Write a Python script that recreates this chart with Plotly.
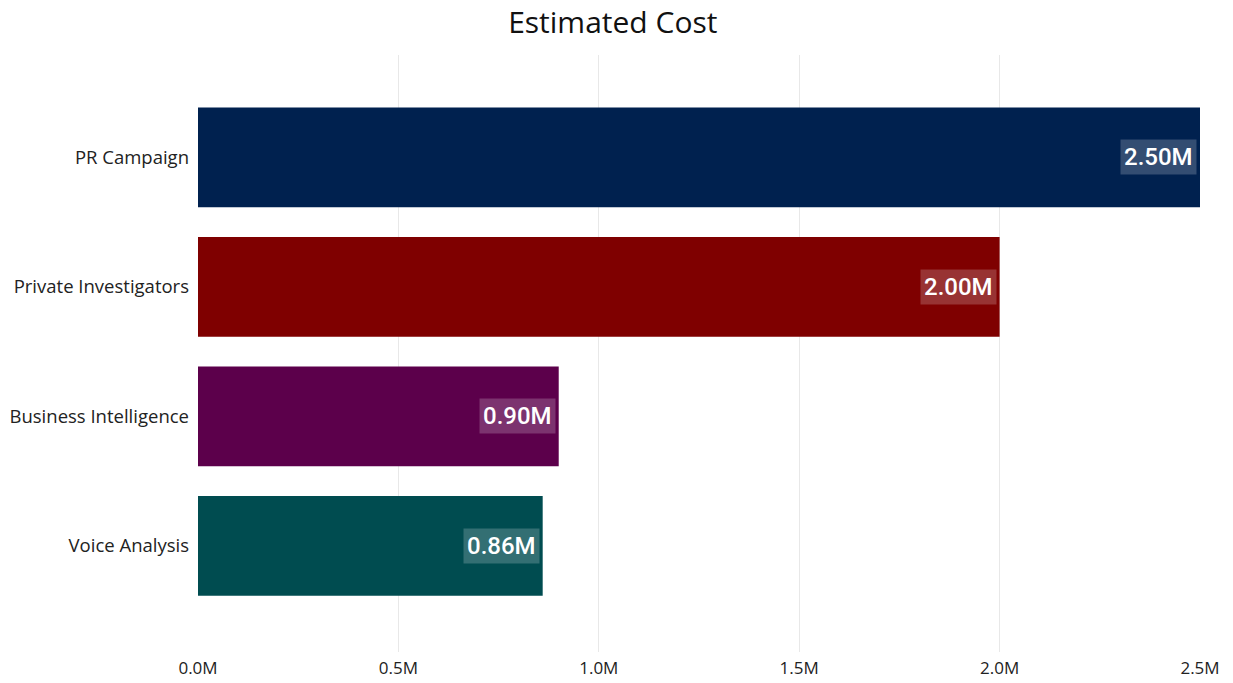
import plotly.graph_objects as go

categories = ["PR Campaign", "Private Investigators", "Business Intelligence", "Voice Analysis"]
values = [2500000, 2000000, 900000, 860000]
labels = ["2.50M", "2.00M", "0.90M", "0.86M"]
colors = ["#00214F", "#7F0000", "#5C004B", "#004C50"]
tick_vals = [0, 500000, 1000000, 1500000, 2000000, 2500000]
tick_text = ["0.0M", "0.5M", "1.0M", "1.5M", "2.0M", "2.5M"]

fig = go.Figure()
fig.add_trace(go.Bar(
    y=categories, x=values, orientation="h",
    marker=dict(color=colors, line=dict(width=0)),
    hoverinfo="x+y",
))

for c, v, t in zip(categories, values, labels):
    fig.add_annotation(
        x=v, y=c, text=t, showarrow=False, xanchor="right", xshift=-3,
        font=dict(family="Roboto", size=24, color="white", weight=500),
        bgcolor="rgba(255,255,255,0.2)", borderpad=3,
    )

fig.update_layout(
    width=1233, height=683,
    margin=dict(l=198, r=33, t=55, b=31),
    paper_bgcolor="white", plot_bgcolor="white",
    title=dict(text="Estimated Cost", x=0.497, xanchor="center", y=0.967, yanchor="middle",
               font=dict(family="Open Sans", size=30, color="#111")),
    bargap=0.23,
    showlegend=False,
    font=dict(family="Open Sans", color="#222"),
)
fig.update_xaxes(
    range=[0, 2500000], tickvals=tick_vals, ticktext=tick_text,
    showgrid=True, gridcolor="#E8E8E8", gridwidth=1, zeroline=False,
    showline=False, ticks="", ticklabelstandoff=4, automargin=False,
    tickfont=dict(size=17, color="#222"),
)
fig.update_yaxes(
    type="category", categoryorder="array", categoryarray=categories,
    range=[3.82, -0.79], showgrid=False, zeroline=False, showline=False,
    ticks="", ticklabelstandoff=8, automargin=False,
    tickfont=dict(size=18.5, color="#222"),
)

fig.write_html("out.html", config={"displayModeBar": False},
               post_script="document.body.style.margin='0';")
